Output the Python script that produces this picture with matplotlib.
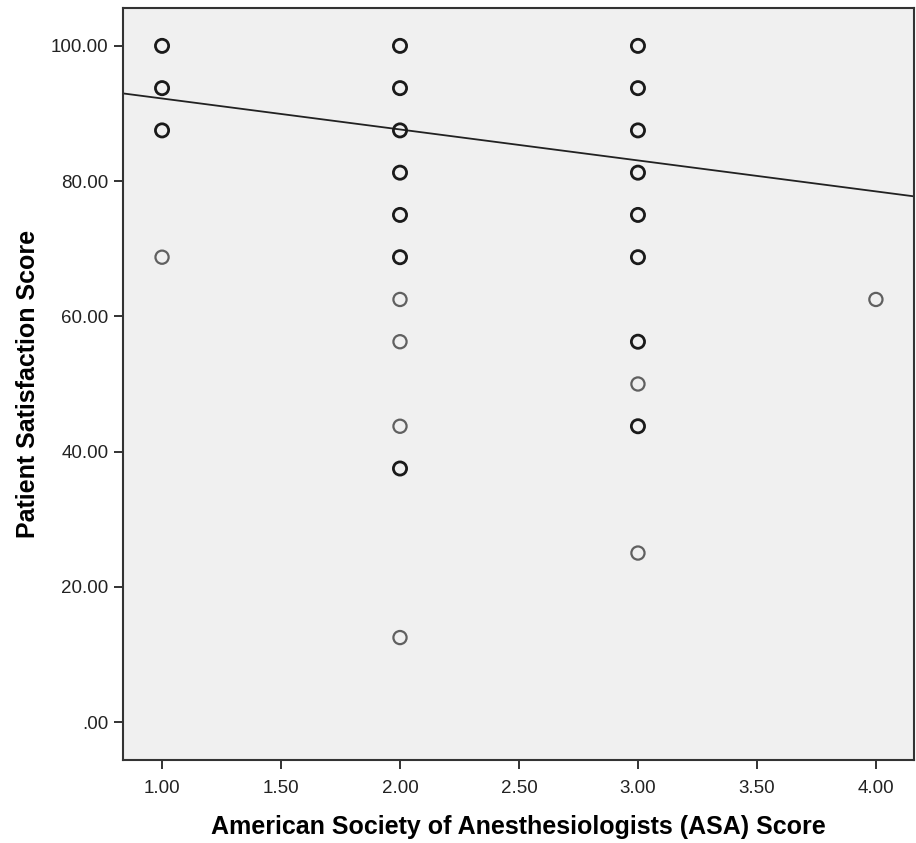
import matplotlib
matplotlib.use("Agg")
import matplotlib.pyplot as plt
import numpy as np
from matplotlib.ticker import FuncFormatter

plt.rcParams['font.family'] = ['Liberation Sans', 'DejaVu Sans']

# ASA score vs patient satisfaction; "stacked" marks several overlapping cases
asa_stacked = [1, 1, 1,
               2, 2, 2, 2, 2, 2, 2,
               3, 3, 3, 3, 3, 3, 3, 3]
sat_stacked = [100.0, 93.75, 87.5,
               100.0, 93.75, 87.5, 81.25, 75.0, 68.75, 37.5,
               100.0, 93.75, 87.5, 81.25, 75.0, 68.75, 56.25, 43.75]

asa_single = [1, 2, 2, 2, 2, 3, 3, 4]
sat_single = [68.75, 62.5, 56.25, 43.75, 12.5, 50.0, 25.0, 62.5]

# Linear fit line
fit_intercept = 96.8
fit_slope = -4.58

x_ticks = [1.0, 1.5, 2.0, 2.5, 3.0, 3.5, 4.0]
y_ticks = [0, 20, 40, 60, 80, 100]

fig = plt.figure(figsize=(9.16, 8.43), dpi=100)
ax = fig.add_axes([0.1343, 0.0985, 0.8635, 0.892])
ax.set_facecolor('#f0f0f0')

xlim = (0.836, 4.16)
ylim = (-5.6, 105.6)
ax.set_xlim(*xlim)
ax.set_ylim(*ylim)

ax.scatter(asa_single, sat_single, s=90, facecolors='none',
           edgecolors='#606060', linewidths=1.6, zorder=3)
ax.scatter(asa_stacked, sat_stacked, s=90, facecolors='none',
           edgecolors='#1a1a1a', linewidths=2.0, zorder=3)

xs = np.array(xlim)
ax.plot(xs, fit_intercept + fit_slope * xs, color='#222222', lw=1.3, zorder=2)

ax.set_xticks(x_ticks)
ax.set_yticks(y_ticks)
fmt = FuncFormatter(lambda v, p: ('%.2f' % v).lstrip('0') if abs(v) < 1 else '%.2f' % v)
ax.xaxis.set_major_formatter(FuncFormatter(lambda v, p: '%.2f' % v))
ax.yaxis.set_major_formatter(fmt)
ax.tick_params(direction='out', length=6.5, width=1.3, color='#222222',
               labelsize=13.5, labelcolor='#222222')
ax.tick_params(axis='x', pad=8)
ax.tick_params(axis='y', pad=4)

for s in ax.spines.values():
    s.set_color('#333333')
    s.set_linewidth(1.5)

ax.set_xlabel('American Society of Anesthesiologists (ASA) Score',
              fontsize=18, fontweight='bold', labelpad=13)
ax.set_ylabel('Patient Satisfaction Score', fontsize=18, fontweight='bold',
              labelpad=8)

fig.savefig('out.png', dpi=100, facecolor='white')
